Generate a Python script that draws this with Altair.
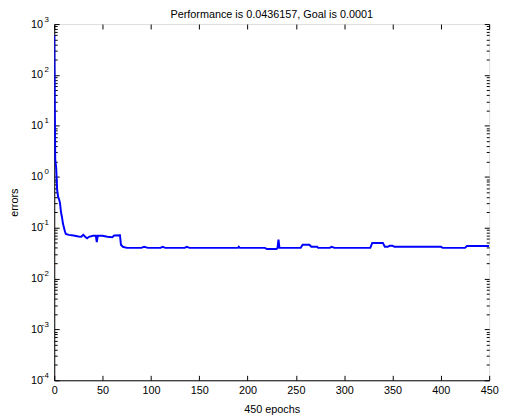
import altair as alt
import pandas as pd

epochs = [0, 1, 2, 3, 4, 5, 6, 7, 8, 9, 10, 11, 12, 15, 20, 25, 28, 30, 32, 34, 36,
          40, 43, 44, 45, 50, 55, 60, 62, 68, 69, 71, 75, 90, 93, 97, 110, 112, 115,
          135, 137, 140, 190, 191, 192, 218, 220, 230, 231, 232, 233, 255, 257, 264,
          266, 272, 273, 285, 287, 290, 327, 329, 340, 342, 345, 347, 350, 352, 400,
          402, 425, 427, 450]
errors = [600, 2.2, 1.5, 0.55, 0.4, 0.36, 0.3, 0.2, 0.16, 0.12, 0.1, 0.085, 0.075,
          0.072, 0.07, 0.067, 0.066, 0.072, 0.066, 0.062, 0.066, 0.069, 0.069, 0.052,
          0.069, 0.069, 0.066, 0.065, 0.07, 0.071, 0.046, 0.042, 0.040, 0.040, 0.042,
          0.040, 0.040, 0.042, 0.040, 0.040, 0.042, 0.040, 0.040, 0.042, 0.040, 0.040,
          0.038, 0.038, 0.040, 0.058, 0.040, 0.040, 0.046, 0.046, 0.042, 0.042, 0.040,
          0.040, 0.042, 0.040, 0.040, 0.050, 0.050, 0.042, 0.042, 0.044, 0.044, 0.042,
          0.042, 0.040, 0.040, 0.0436, 0.0436]

x_ticks = [0, 50, 100, 150, 200, 250, 300, 350, 400, 450]
y_major = [1e-4, 1e-3, 1e-2, 1e-1, 1e0, 1e1, 1e2, 1e3]
y_minor = [m * d for d in [1e-4, 1e-3, 1e-2, 1e-1, 1e0, 1e1, 1e2] for m in [2, 3, 4, 5, 6, 7, 8, 9]]

title_text = "Performance is 0.0436157, Goal is 0.0001"
x_title = "450 epochs"
y_title = "errors"

df = pd.DataFrame({"epoch": epochs, "error": errors})

W, H = 442, 362
FONT = "Liberation Sans"

xs = alt.Scale(domain=[0, 450], nice=False, zero=False)
ys = alt.Scale(type="log", domain=[1e-4, 1e3], nice=False)

tick_only = dict(grid=False, labels=False, domain=False, title=None,
                 tickColor="black", tickWidth=1)

y_main = alt.Axis(orient="left", values=y_major,
                  labelExpr="datum.value < 0.5 ? '10\u00a0' : '10'",
                  ticks=False, tickSize=0, labelPadding=12, labelFontSize=11,
                  labelColor="black", labelFont=FONT, labelFlush=False,
                  labelBaseline="middle",
                  domain=True, domainColor="black", domainWidth=1, grid=False,
                  title=y_title, titleFontSize=11, titleFontWeight="normal",
                  titleColor="black", titleFont=FONT, titleX=-40, titleY=H / 2,
                  titleAngle=270, titleAlign="center", titleBaseline="middle")
y_exp = alt.Axis(orient="left", values=y_major,
                 labelExpr="'' + round(log(datum.value) / LN10)",
                 ticks=False, tickSize=0, labelPadding=6, labelFontSize=8,
                 labelOffset=-5, labelColor="black", labelFont=FONT,
                 labelFlush=False, labelBaseline="middle",
                 domain=False, grid=False, title=None)
x_main = alt.Axis(orient="bottom", values=x_ticks, format="d",
                  ticks=False, tickSize=0, labelPadding=4, labelFontSize=11,
                  labelColor="black", labelFont=FONT, labelFlush=False,
                  domain=True, domainColor="black", domainWidth=1, grid=False,
                  title=x_title, titleFontSize=11, titleFontWeight="normal",
                  titleColor="black", titleFont=FONT, titlePadding=9)

x_top_in = alt.Axis(orient="bottom", offset=-H, values=x_ticks, tickSize=5, **tick_only)
x_bot_in = alt.Axis(orient="top", offset=-H, values=x_ticks, tickSize=5, **tick_only)
y_left_major = alt.Axis(orient="right", offset=-W, values=y_major, tickSize=5, **tick_only)
y_left_minor = alt.Axis(orient="right", offset=-W, values=y_minor, tickSize=3, **tick_only)
y_right_major = alt.Axis(orient="left", offset=-W, values=y_major, tickSize=5, **tick_only)
y_right_minor = alt.Axis(orient="left", offset=-W, values=y_minor, tickSize=3, **tick_only)


def make_layer(yaxis, xaxis, visible):
    return alt.Chart(df).mark_line(
        color="#0000ff", strokeWidth=2, opacity=1 if visible else 0, clip=True
    ).encode(
        x=alt.X("epoch:Q", scale=xs, axis=xaxis),
        y=alt.Y("error:Q", scale=ys, axis=yaxis),
    )


layers = [
    make_layer(y_main, x_main, True),
    make_layer(y_exp, x_bot_in, False),
    make_layer(y_left_major, x_top_in, False),
    make_layer(y_left_minor, None, False),
    make_layer(y_right_major, None, False),
    make_layer(y_right_minor, None, False),
]

chart = alt.layer(*layers).resolve_axis(
    x="independent", y="independent"
).properties(
    width=W, height=H,
    autosize=alt.AutoSizeParams(type="none"),
    padding={"left": 47, "top": 13, "right": 12, "bottom": 34},
    title=alt.Title(title_text, fontSize=11, fontWeight="normal", font=FONT,
                    color="black", offset=-5, anchor="middle"),
    background="white",
).configure_view(
    stroke="black", strokeWidth=1
).configure(font=FONT)

chart.save("out.html", embed_options={"renderer": "svg", "actions": False})
